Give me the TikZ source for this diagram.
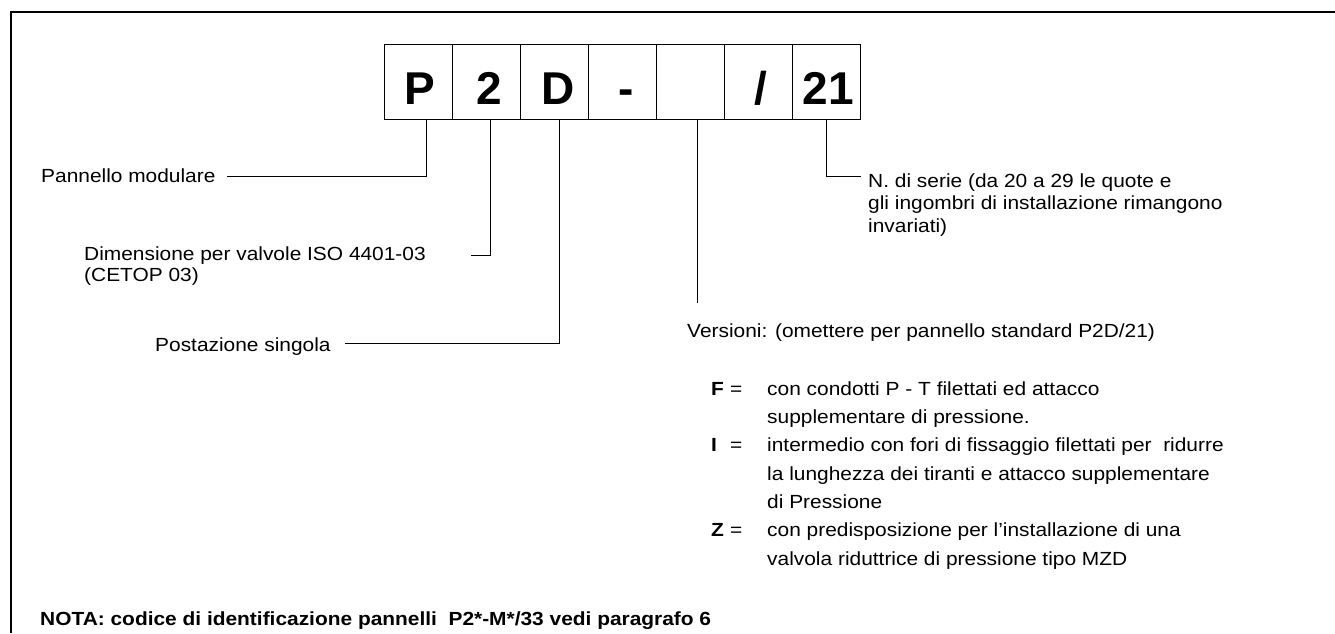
\documentclass[tikz,border=0pt]{standalone}
\usepackage{fontspec}
\setmainfont[FakeStretch=1.1]{Liberation Sans}
\newfontfamily\bigfont{Liberation Sans}
\begin{document}
\begin{tikzpicture}[x=1pt,y=-1pt,
  lbl/.style={anchor=base west, inner sep=0pt, font=\fontsize{19}{23}\selectfont},
  key/.style={anchor=base west, inner sep=0pt, font=\fontsize{19}{23}\selectfont\bfseries},
  codebox/.style={draw, line width=0.8pt, minimum width=68pt, minimum height=75pt, inner sep=0pt, anchor=north west},
  letter/.style={anchor=base, inner sep=0pt, font=\bigfont\fontsize{46}{50}\selectfont\bfseries},
  conn/.style={line width=0.8pt}]
\useasboundingbox (0,0) rectangle (1335,633);
\draw[line width=1.2pt] (11,633) -- (11,12) -- (1335,12);

% code boxes
\node[codebox] (b1) at (384,44) {};
\node[codebox] (b2) at (452,44) {};
\node[codebox] (b3) at (520,44) {};
\node[codebox] (b4) at (588,44) {};
\node[codebox] (b5) at (656,44) {};
\node[codebox] (b6) at (724,44) {};
\node[codebox] (b7) at (792,44) {};
\node[letter] (l1) at (420,104) {P};
\node[letter] (l2) at (489,104) {2};
\node[letter] (l3) at (558,104) {D};
\node[letter] (l4) at (626,104) {-};
\node[letter] (l6) at (761,104) {/};
\node[letter] (l7) at (828,104) {21};

% labels
\node[lbl] (t1) at (41,182) {Pannello modulare};
\node[lbl] (t2a) at (84,260) {Dimensione per valvole ISO 4401-03};
\node[lbl] (t2b) at (84,281) {(CETOP 03)};
\node[lbl] (t3) at (155,351) {Postazione singola};
\node[lbl] (t7a) at (868,187) {N. di serie (da 20 a 29 le quote e};
\node[lbl] (t7b) at (868,209.5) {gli ingombri di installazione rimangono};
\node[lbl] (t7c) at (868,232) {invariati)};
\node[lbl] (t5) at (687,337) {Versioni: (omettere per pannello standard P2D/21)};

\node[key] (kF) at (711,395) {F};
\node[lbl] (eF) at (730,395) {=};
\node[lbl] (tF1) at (767,395) {con condotti P - T filettati ed attacco};
\node[lbl] (tF2) at (767,423.3) {supplementare di pressione.};
\node[key] (kI) at (711,451.7) {I};
\node[lbl] (eI) at (730,451.7) {=};
\node[lbl] (tI1) at (767,451.7) {intermedio con fori di fissaggio filettati per\ \ ridurre};
\node[lbl] (tI2) at (767,480) {la lunghezza dei tiranti e attacco supplementare};
\node[lbl] (tI3) at (767,508.3) {di Pressione};
\node[key] (kZ) at (711,536.7) {Z};
\node[lbl] (eZ) at (730,536.7) {=};
\node[lbl] (tZ1) at (767,536.7) {con predisposizione per l’installazione di una};
\node[lbl] (tZ2) at (767,565) {valvola riduttrice di pressione tipo MZD};

\node[key] (nota) at (40,625) {NOTA: codice di identificazione pannelli\ \ P2*-M*/33 vedi paragrafo 6};

% connector ends
\coordinate (e1) at (227,176);
\coordinate (e2) at (471,255);
\coordinate (e3) at (345,343);
\coordinate (e5) at (697.7,303);
\coordinate (e7) at (861,176);

\draw[conn] (b1.south -| 426,0) |- (e1);
\draw[conn] (b2.south -| 490,0) |- (e2);
\draw[conn] (b3.south -| 559,0) |- (e3);
\draw[conn] (b5.south -| e5) -- (e5);
\draw[conn] (b7.south -| 826.7,0) |- (e7);
\end{tikzpicture}
\end{document}
